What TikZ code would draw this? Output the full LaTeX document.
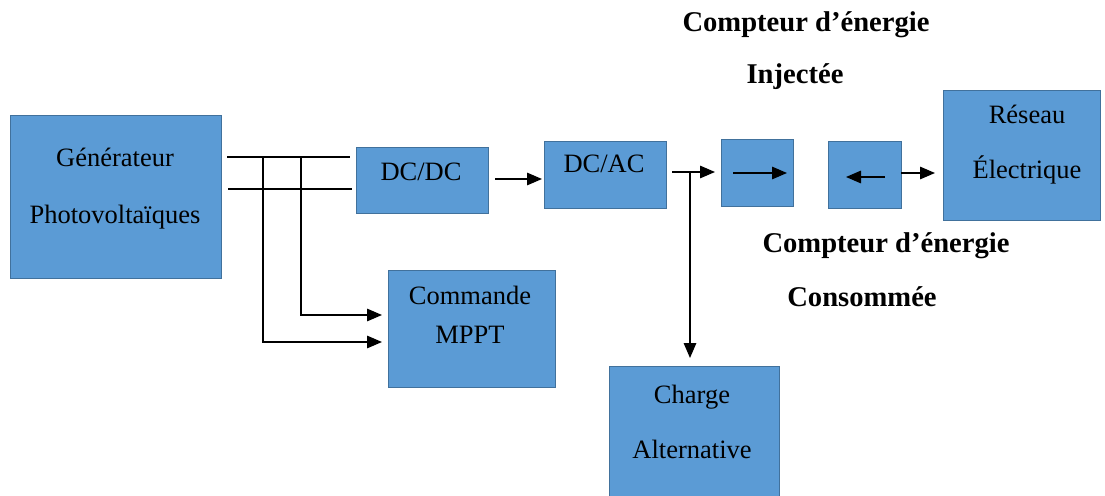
\documentclass[tikz,border=0pt]{standalone}
\usepackage{fontspec}
\setmainfont{Liberation Serif}
\usetikzlibrary{arrows.meta}
\definecolor{boxfill}{HTML}{5B9BD5}
\definecolor{boxline}{HTML}{41719C}
\begin{document}
\begin{tikzpicture}[x=1pt,y=-1pt,
  blk/.style={draw=boxline, line width=1pt, fill=boxfill, inner sep=0pt, outer sep=0pt},
  txt/.style={anchor=base, inner sep=0pt, font=\fontsize{26.5}{30}\selectfont},
  btxt/.style={anchor=base, inner sep=0pt, font=\fontsize{28.6}{32}\selectfont\bfseries},
  wire/.style={line width=1.5pt},
  arr/.style={line width=1.5pt, -{Triangle[length=15pt,width=12.5pt]}}]
\useasboundingbox (0,0) rectangle (1105,495);
% boxes
\node[blk, minimum width=211, minimum height=163] (gen) at (115.5,196.5) {};
\node[blk, minimum width=132, minimum height=66] (dcdc) at (422,180) {};
\node[blk, minimum width=122, minimum height=67] (dcac) at (605,174.5) {};
\node[blk, minimum width=167, minimum height=117] (mppt) at (471.5,328.5) {};
\node[blk, minimum width=72, minimum height=67] (cinj) at (757,172.5) {};
\node[blk, minimum width=73, minimum height=67] (ccons) at (864.5,174.5) {};
\node[blk, minimum width=157, minimum height=130] (res) at (1021.5,155) {};
\node[blk, minimum width=170, minimum height=140] (chg) at (694,436) {};
% texts
\node[txt] (t1) at (115,166) {Générateur};
\node[txt] (t2) at (115,223) {Photovoltaïques};
\node[txt] (t3) at (421,180) {DC/DC};
\node[txt] (t4) at (604,172) {DC/AC};
\node[txt] (t5) at (470,304) {Commande};
\node[txt] (t6) at (470,343) {MPPT};
\node[txt] (t7) at (1027,123) {Réseau};
\node[txt] (t8) at (1027,178) {Électrique};
\node[txt] (t9) at (692,403) {Charge};
\node[txt] (t10) at (692,458) {Alternative};
\node[btxt] (b1) at (806,32) {Compteur d’énergie};
\node[btxt] (b2) at (795,84) {Injectée};
\node[btxt] (b3) at (886,252) {Compteur d’énergie};
\node[btxt] (b4) at (862,306) {Consommée};
% bus lines
\coordinate (ba1) at (227,157);
\coordinate (ba2) at (350,157);
\coordinate (bb1) at (228,189);
\coordinate (bb2) at (352,189);
\coordinate (v1) at (263,157);
\coordinate (v2) at (301,157);
\draw[wire] (ba1) -- (ba2);
\draw[wire] (bb1) -- (bb2);
\draw[arr] (v1) |- ([xshift=-6pt]mppt.west |- 0,342);
\draw[arr] (v2) |- ([xshift=-6pt]mppt.west |- 0,315);
% main chain
\draw[arr] ([xshift=7pt]dcdc.east |- 0,179) -- ([xshift=-2pt]dcac.west |- 0,179);
\coordinate (sp) at (690,172);
\draw[arr] ([xshift=6pt]dcac.east |- 0,172) -- ([xshift=-6pt]cinj.west |- 0,172);
\draw[arr] (sp) -- ([yshift=8pt]chg.north -| sp);
\draw[arr] ([xshift=12pt]cinj.west |- 0,173) -- ([xshift=-6pt]cinj.east |- 0,173);
\draw[arr] ([xshift=-16pt]ccons.east |- 0,177) -- ([xshift=18pt]ccons.west |- 0,177);
\draw[arr] (ccons.east |- 0,173) -- ([xshift=-8pt]res.west |- 0,173);
\end{tikzpicture}
\end{document}
